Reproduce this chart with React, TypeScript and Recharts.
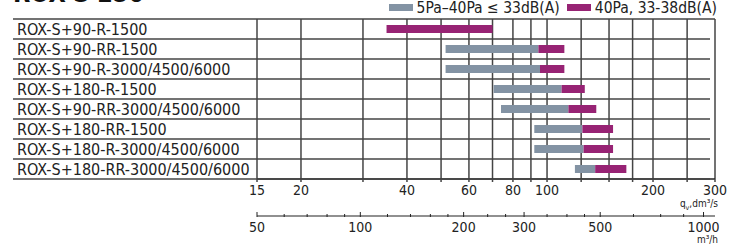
import React from 'react'
import { Bar, BarChart, CartesianGrid, XAxis, YAxis } from 'recharts'

// ─── data ─────────────────────────────────────────────
const models = [
  'ROX-S+90-R-1500',
  'ROX-S+90-RR-1500',
  'ROX-S+90-R-3000/4500/6000',
  'ROX-S+180-R-1500',
  'ROX-S+90-RR-3000/4500/6000',
  'ROX-S+180-RR-1500',
  'ROX-S+180-R-3000/4500/6000',
  'ROX-S+180-RR-3000/4500/6000',
]
// grey: 5Pa–40Pa ≤ 33dB(A)   (dm³/s)
const lowStart = [null, 51.5, 51.5, 70.5, 74, 92, 92, 120]
const lowEnd = [null, 94.5, 95.5, 110, 115, 126, 127, 137]
// magenta: 40Pa, 33-38dB(A)
const highStart = [35, 94.5, 95.5, 110, 115, 126, 127, 137]
const highEnd = [70, 112, 112, 128, 138, 154, 154, 168]

const qTicks = [15, 20, 30, 40, 50, 60, 70, 80, 90, 100, 125, 150, 175, 200, 250, 300]
const qLabels = [15, 20, 40, 60, 80, 100, 200, 300]
const m3Ticks = [50, 60, 70, 80, 90, 100, 120, 140, 160, 180, 200, 235, 265, 300, 350, 400, 450, 500, 625, 750, 875, 1000]
const m3Labels = [50, 100, 200, 300, 500, 1000]

const legendItems = [
  { label: '5Pa–40Pa ≤ 33dB(A)', color: '#8393a4' },
  { label: '40Pa, 33-38dB(A)', color: '#972374' },
]

const data = models.map((name, i) => ({
  name,
  low: lowStart[i] == null ? null : [lowStart[i], lowEnd[i]],
  high: [highStart[i], highEnd[i]],
}))

const FONT = '"DejaVu Sans Condensed", "DejaVu Sans", sans-serif'
const GRID = '#444'
const W = 742
const H = 250
const LEFT = 13
const PLOT_L = 257
const PLOT_R = 715

function RowTick({ y, payload, index }: any) {
  const half = payload?.offset || 10
  return (
    <g>
      {index === 0 && <line x1={LEFT} x2={PLOT_R} y1={y - half} y2={y - half} stroke={GRID} strokeWidth={1.5} />}
      <line x1={LEFT} x2={PLOT_R - 5} y1={y + half} y2={y + half} stroke={GRID} strokeWidth={1.5} />
      <text x={LEFT + 4} y={y} dy={6} fontSize={16} fill="#222" style={{ fontFamily: FONT }}>{payload.value}</text>
    </g>
  )
}

function QTick({ x, y, payload }: any) {
  if (!qLabels.includes(payload.value)) return null
  return (
    <text x={x} y={y} dy={11} textAnchor="middle" fontSize={14} fill="#222" style={{ fontFamily: FONT }}>
      {payload.value}
    </text>
  )
}

function M3Tick({ x, y, payload }: any) {
  const major = m3Labels.includes(payload.value)
  return (
    <g>
      <line x1={x} x2={x} y1={y - (major ? 4 : 2)} y2={y + 1} stroke="#222" strokeWidth={1} />
      {major && (
        <text x={x} y={y} dy={16} textAnchor="middle" fontSize={14} fill="#222" style={{ fontFamily: FONT }}>
          {payload.value}
        </text>
      )}
    </g>
  )
}

export default function App() {
  return (
    <div style={{ position: 'absolute', left: 0, top: 0, width: W, height: H, background: '#fff', overflow: 'hidden', fontFamily: FONT }}>
      <div style={{ position: 'absolute', left: 13, top: -19, fontSize: 25, lineHeight: '25px', fontWeight: 'bold', color: '#111', whiteSpace: 'nowrap' }}>
        ROX-S 250
      </div>

      <div style={{ position: 'absolute', right: W - 717, top: 0, display: 'flex', alignItems: 'center', fontSize: 15.5, lineHeight: '17px', color: '#222', whiteSpace: 'nowrap' }}>
        {legendItems.map((d, i) => (
          <span key={i} style={{ display: 'flex', alignItems: 'center', marginRight: i === 0 ? 7 : 0 }}>
            <span style={{ display: 'inline-block', width: 24, height: 7, background: d.color, marginRight: 4, position: 'relative', top: -1 }} />
            {d.label}
          </span>
        ))}
      </div>

      <BarChart
        width={W}
        height={H}
        data={data}
        layout="vertical"
        barSize={8}
        barGap={-8}
        margin={{ top: 19, right: W - PLOT_R, bottom: 0, left: 0 }}
      >
        <CartesianGrid xAxisId="dm" horizontal={false} stroke={GRID} strokeWidth={1.5} />
        <XAxis
          xAxisId="dm"
          type="number"
          scale="log"
          domain={[15, 300]}
          ticks={qTicks}
          interval={0}
          allowDataOverflow
          height={37}
          axisLine={{ stroke: '#222', strokeWidth: 1.5 }}
          tickLine={{ stroke: GRID, strokeWidth: 1.5 }}
          tickSize={3}
          tickMargin={2}
          tick={<QTick />}
        />
        <XAxis
          xAxisId="m3"
          type="number"
          scale="log"
          domain={[50, 1080]}
          ticks={m3Ticks}
          interval={0}
          allowDataOverflow
          height={34}
          axisLine={{ stroke: '#222', strokeWidth: 1.2 }}
          tickLine={false}
          tickSize={0}
          tickMargin={0}
          tick={<M3Tick />}
        />
        <YAxis
          type="category"
          dataKey="name"
          width={PLOT_L}
          axisLine={false}
          tickLine={false}
          interval={0}
          tick={<RowTick />}
        />
        <Bar xAxisId="dm" dataKey="low" fill={legendItems[0].color} isAnimationActive={false} />
        <Bar xAxisId="dm" dataKey="high" fill={legendItems[1].color} isAnimationActive={false} />
      </BarChart>

      <div style={{ position: 'absolute', right: W - 718, top: 198, fontSize: 10, color: '#222', whiteSpace: 'nowrap' }}>
        q<sub style={{ fontSize: 7 }}>v</sub>,dm³/s
      </div>
      <div style={{ position: 'absolute', right: W - 718, top: 234, fontSize: 10, color: '#222', whiteSpace: 'nowrap' }}>
        m³/h
      </div>
    </div>
  )
}
